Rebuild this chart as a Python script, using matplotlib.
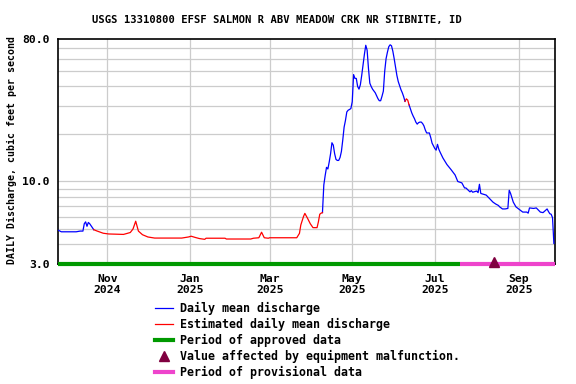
import numpy as np
import pandas as pd
import matplotlib
matplotlib.use("Agg")
import matplotlib.pyplot as plt
from matplotlib.lines import Line2D
from matplotlib.ticker import FixedLocator, NullFormatter
from matplotlib.transforms import offset_copy

TITLE = "USGS 13310800 EFSF SALMON R ABV MEADOW CRK NR STIBNITE, ID"
YLABEL = "DAILY Discharge, cubic feet per second"

# daily mean discharge, cfs
dates = [
    "2024-09-26", "2024-09-28", "2024-10-09", "2024-10-12", "2024-10-14", "2024-10-15",
    "2024-10-16", "2024-10-17", "2024-10-18", "2024-10-19", "2024-10-21", "2024-10-22",
    "2024-10-24", "2024-10-29", "2024-11-02", "2024-11-13", "2024-11-18", "2024-11-20",
    "2024-11-22", "2024-11-24", "2024-11-27", "2024-12-01", "2024-12-06", "2024-12-26",
    "2024-12-31", "2025-01-02", "2025-01-05", "2025-01-08", "2025-01-12", "2025-01-13",
    "2025-01-27", "2025-01-28", "2025-02-15", "2025-02-17", "2025-02-21", "2025-02-23",
    "2025-02-25", "2025-02-28", "2025-03-01", "2025-03-21", "2025-03-23", "2025-03-24",
    "2025-03-26", "2025-03-27", "2025-03-29", "2025-03-31", "2025-04-02", "2025-04-05",
    "2025-04-06", "2025-04-07", "2025-04-08", "2025-04-09", "2025-04-10", "2025-04-11",
    "2025-04-12", "2025-04-13", "2025-04-14", "2025-04-15", "2025-04-16", "2025-04-17",
    "2025-04-18", "2025-04-19", "2025-04-20", "2025-04-21", "2025-04-22", "2025-04-23",
    "2025-04-24", "2025-04-25", "2025-04-26", "2025-04-27", "2025-04-28", "2025-04-29",
    "2025-04-30", "2025-05-01", "2025-05-02", "2025-05-03", "2025-05-04", "2025-05-05",
    "2025-05-06", "2025-05-07", "2025-05-08", "2025-05-09", "2025-05-10", "2025-05-11",
    "2025-05-12", "2025-05-13", "2025-05-14", "2025-05-15", "2025-05-16", "2025-05-17",
    "2025-05-18", "2025-05-19", "2025-05-20", "2025-05-21", "2025-05-22", "2025-05-23",
    "2025-05-24", "2025-05-25", "2025-05-26", "2025-05-27", "2025-05-28", "2025-05-29",
    "2025-05-30", "2025-05-31", "2025-06-01", "2025-06-02", "2025-06-03", "2025-06-04",
    "2025-06-05", "2025-06-06", "2025-06-07", "2025-06-08", "2025-06-09", "2025-06-10",
    "2025-06-11", "2025-06-12", "2025-06-13", "2025-06-14", "2025-06-15", "2025-06-16",
    "2025-06-17", "2025-06-18", "2025-06-19", "2025-06-20", "2025-06-21", "2025-06-22",
    "2025-06-23", "2025-06-24", "2025-06-25", "2025-06-27", "2025-06-28", "2025-06-29",
    "2025-07-01", "2025-07-02", "2025-07-03", "2025-07-04", "2025-07-05", "2025-07-07",
    "2025-07-10", "2025-07-13", "2025-07-16", "2025-07-18", "2025-07-21", "2025-07-23",
    "2025-07-24", "2025-07-27", "2025-07-28", "2025-07-29", "2025-08-01", "2025-08-02",
    "2025-08-03", "2025-08-04", "2025-08-05", "2025-08-08", "2025-08-11", "2025-08-13",
    "2025-08-15", "2025-08-17", "2025-08-18", "2025-08-20", "2025-08-22", "2025-08-24",
    "2025-08-25", "2025-08-26", "2025-08-28", "2025-08-30", "2025-09-02", "2025-09-04",
    "2025-09-07", "2025-09-08", "2025-09-09", "2025-09-12", "2025-09-14", "2025-09-17",
    "2025-09-19", "2025-09-22", "2025-09-23", "2025-09-24", "2025-09-25", "2025-09-26",
    "2025-09-27",
]
flow = [
    4.9, 4.8, 4.8, 4.85, 4.85, 5.4,
    5.55, 5.2, 5.5, 5.4, 5.1, 4.95,
    4.87, 4.7, 4.65, 4.62, 4.75, 5.0,
    5.6, 4.85, 4.6, 4.45, 4.38, 4.38,
    4.45, 4.5, 4.42, 4.35, 4.3, 4.37,
    4.37, 4.32, 4.32, 4.37, 4.4, 4.77,
    4.4, 4.37, 4.4, 4.4, 4.69, 5.3,
    6.0, 6.28, 5.84, 5.4, 5.1, 5.1,
    5.55, 6.2, 6.3, 6.35, 9.5, 10.9,
    12.3, 12.0, 13.3, 15.0, 17.6, 17.0,
    15.0, 13.8, 13.6, 13.6, 14.2, 15.5,
    18.3, 22.1, 24.4, 27.6, 28.3, 28.6,
    29.0, 32.0, 47.6, 45.0, 45.0, 40.0,
    38.5, 41.0, 47.0, 55.0, 64.0, 73.0,
    68.0, 52.0, 42.0, 40.0, 38.5, 37.5,
    36.5, 35.0, 33.5, 32.5, 32.5, 34.7,
    37.4, 50.0, 60.0, 66.0, 71.5, 73.5,
    72.5, 67.0, 60.0, 53.0, 47.0, 43.0,
    40.5, 38.2, 36.5, 34.5, 32.2, 33.4,
    32.8, 30.6, 28.8, 27.2, 26.0, 25.0,
    23.8, 23.1, 23.6, 23.8, 23.8, 23.3,
    22.5, 21.2, 20.3, 20.3, 19.0, 17.5,
    16.2, 15.8, 17.2, 16.0, 15.3, 14.1,
    12.8, 11.9, 11.0, 10.0, 9.8, 9.1,
    9.1, 8.6, 8.75, 8.55, 8.7, 8.5,
    9.6, 8.4, 8.35, 8.2, 7.7, 7.4,
    7.2, 7.05, 6.9, 6.7, 6.7, 6.75,
    8.8, 8.4, 7.4, 6.9, 6.6, 6.4,
    6.4, 6.3, 6.8, 6.75, 6.8, 6.4,
    6.35, 6.7, 6.45, 6.25, 6.2, 5.9,
    4.05,
]

estimated_periods = [("2024-10-22", "2025-04-09"), ("2025-06-09", "2025-06-12")]
approved_span = ("2024-09-25 14:00", "2025-07-20")
provisional_span = ("2025-07-20", "2025-09-27 20:00")
malfunction_dates = ["2025-08-14"]

xtick_dates = ["2024-11-01", "2025-01-01", "2025-03-01", "2025-05-01", "2025-07-01", "2025-09-01"]
xtick_labels = ["Nov\n2024", "Jan\n2025", "Mar\n2025", "May\n2025", "Jul\n2025", "Sep\n2025"]
ytick_values = [3, 10, 80]
ytick_labels = ["3.0", "10.0", "80.0"]
ygrid_values = [4, 5, 6, 7, 8, 9, 10, 20, 30, 40, 50, 60, 70]

BLUE = "#0000ff"
RED = "#ff0000"
GREEN = "#009900"
PINK = "#ee44cc"
MAROON = "#800040"

plt.rcParams["font.family"] = ["DejaVu Sans Mono"]
plt.rcParams["font.weight"] = "bold"


def main():
    t = pd.to_datetime(dates)
    q = pd.Series(flow, index=t, dtype=float)

    # blue where not estimated (period ends kept so the line joins up)
    blue = q.copy()
    for start, end in estimated_periods:
        inner = (q.index > pd.Timestamp(start)) & (q.index < pd.Timestamp(end))
        blue[inner] = np.nan

    fig = plt.figure(figsize=(5.76, 3.84), dpi=100)
    ax = fig.add_axes([58 / 576, 1 - 264 / 384, 497 / 576, 225 / 384])

    ax.set_yscale("log")
    ax.set_ylim(3, 80)
    ax.set_xlim(pd.Timestamp(approved_span[0]), pd.Timestamp(provisional_span[1]))

    # grid
    for v in ygrid_values:
        ax.axhline(v, color="#cccccc", lw=0.9, zorder=0)
    for d in xtick_dates:
        ax.axvline(pd.Timestamp(d), color="#cccccc", lw=0.9, zorder=0)

    ax.plot(blue.index, blue.values, color=BLUE, lw=0.9, zorder=3)
    for start, end in estimated_periods:
        part = q[start:end]
        ax.plot(part.index, part.values, color=RED, lw=0.9, zorder=4)

    # approval bars along the bottom
    ax.plot([pd.Timestamp(approved_span[0]), pd.Timestamp(approved_span[1])], [3, 3],
            color=GREEN, lw=3.0, solid_capstyle="butt", clip_on=False, zorder=5)
    ax.plot([pd.Timestamp(provisional_span[0]), pd.Timestamp(provisional_span[1])], [3, 3],
            color=PINK, lw=3.0, solid_capstyle="butt", clip_on=False, zorder=5)
    lifted = offset_copy(ax.transData, fig=fig, y=2, units="dots")
    ax.plot(pd.to_datetime(malfunction_dates), [3.0] * len(malfunction_dates), ls="none",
            marker="^", ms=7.5, color=MAROON, clip_on=False, zorder=6, transform=lifted)

    ax.yaxis.set_major_locator(FixedLocator(ytick_values))
    ax.yaxis.set_minor_locator(FixedLocator([]))
    ax.yaxis.set_minor_formatter(NullFormatter())
    ax.set_yticklabels(ytick_labels)
    ax.set_xticks(pd.to_datetime(xtick_dates))
    ax.set_xticklabels(xtick_labels, linespacing=1.1)
    ax.tick_params(axis="both", length=0, labelsize=8.2)
    ax.tick_params(axis="y", pad=6)
    ax.tick_params(axis="x", pad=7)
    for s in ax.spines.values():
        s.set_linewidth(1.2)

    fig.text(277 / 576, 1 - 20 / 384, TITLE, ha="center", va="center", fontsize=7.6)
    fig.text(12 / 576, 1 - 150 / 384, YLABEL, rotation=90, ha="center", va="center",
             fontsize=7.1)

    handles = [
        Line2D([], [], color=BLUE, lw=0.9),
        Line2D([], [], color=RED, lw=0.9),
        Line2D([], [], color=GREEN, lw=3.0),
        Line2D([], [], color=MAROON, ls="none", marker="^", ms=7),
        Line2D([], [], color=PINK, lw=3.0),
    ]
    labels = [
        "Daily mean discharge",
        "Estimated daily mean discharge",
        "Period of approved data",
        "Value affected by equipment malfunction.",
        "Period of provisional data",
    ]
    fig.legend(handles, labels, loc="upper left", bbox_to_anchor=(155 / 576, 1 - 302 / 384),
               frameon=False, fontsize=8.4, handlelength=1.55, handletextpad=0.55,
               labelspacing=0.24, borderpad=0, borderaxespad=0)

    fig.savefig("out.png", dpi=100)


if __name__ == "__main__":
    main()
